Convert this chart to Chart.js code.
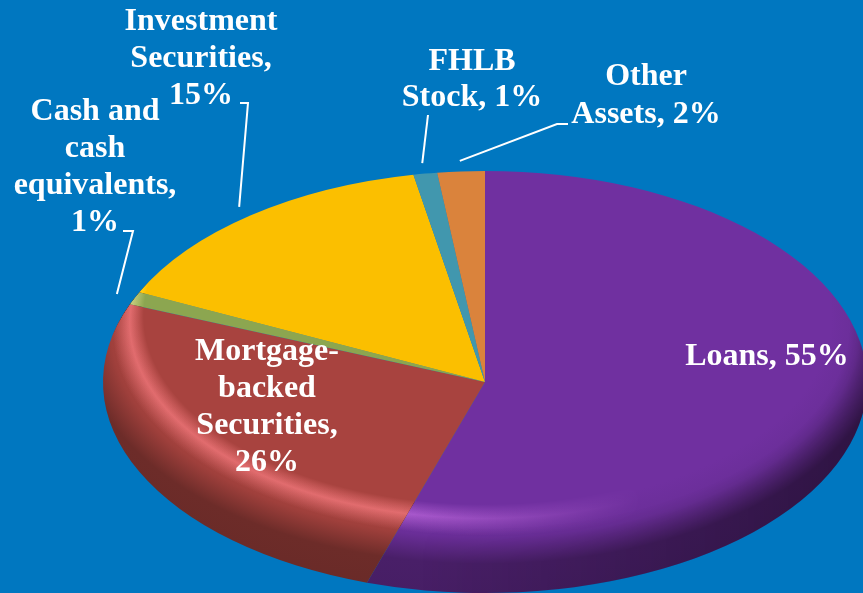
<!DOCTYPE html>
<html>
<head>
<meta charset="utf-8">
<script src="https://cdn.jsdelivr.net/npm/chart.js@4.4.1/dist/chart.umd.min.js"></script>
<style>
  html, body { margin: 0; padding: 0; background: #0077C0; }
  #wrap { width: 863px; height: 593px; position: relative; overflow: hidden; }
</style>
</head>
<body>
<div id="wrap"><canvas id="assets"></canvas></div>
<script>
// asset mix, clockwise from 12 o'clock
const categories = ['Loans', 'Mortgage-backed Securities', 'Cash and cash equivalents',
                    'Investment Securities', 'FHLB Stock', 'Other Assets'];
const shares = [55, 26, 1, 15, 1, 2];
const labelLines = [
    ['Loans, 55%'],
    ['Mortgage-', 'backed', 'Securities,', '26%'],
    ['Cash and', 'cash', 'equivalents,', '1%'],
    ['Investment', 'Securities,', '15%'],
    ['FHLB', 'Stock, 1%'],
    ['Other', 'Assets, 2%']
];
const sliceColors = ['#7030A0', '#A8433F', '#8CA650', '#FBBF00', '#4197AE', '#DA833C'];

// where the pie sits (ellipse, to fake the tilted 3D look)
const PIE = { x: 485, y: 382, rx: 382, ry: 211 };
// bevel gradient: inner circle raised by a, shrunk by b; outer circle grown by s
const BEVEL = { a: 100, b: 40, s: 80 };

// text placement: centre x, first line y, line step, and leader line (text side points)
const labelLayout = [
    { x: 767, y: 357, step: 37, leader: null },
    { x: 267, y: 352, step: 37, leader: null },
    { x: 95,  y: 112, step: 37, leader: [[123, 231], [133, 231]] },
    { x: 201, y: 22,  step: 37, leader: [[240, 103], [248, 103]] },
    { x: 472, y: 62,  step: 36, leader: [[428, 115]] },
    { x: 646, y: 77,  step: 38, leader: [[568, 124], [557, 124]] }
];

function shade(hex, amt) {
    const n = parseInt(hex.slice(1), 16);
    const ch = [(n >> 16) & 255, (n >> 8) & 255, n & 255];
    return 'rgb(' + ch.map(c => Math.round(c * (1 + amt))).join(',') + ')';
}

function pieGeom(chart) {
    const area = chart.chartArea;
    return {
        cx: (area.left + area.right) / 2,
        cy: (area.top + area.bottom) / 2,
        R: Math.min(area.right - area.left, area.bottom - area.top) / 2
    };
}

function bevelGradient(ctx, g) {
    return ctx.createRadialGradient(g.cx, g.cy - BEVEL.a, g.R - BEVEL.b, g.cx, g.cy, g.R + BEVEL.s);
}

// slice fill: flat top, darkening towards the front rim
function sliceFill(context) {
    const base = sliceColors[context.dataIndex];
    const chart = context.chart;
    if (!chart.chartArea) return base;
    const grad = bevelGradient(chart.ctx, pieGeom(chart));
    grad.addColorStop(0, base);
    grad.addColorStop(0.1, base);
    grad.addColorStop(0.28, shade(base, -0.05));
    grad.addColorStop(0.45, shade(base, -0.35));
    grad.addColorStop(1, shade(base, -0.4));
    return grad;
}

// rim overlay drawn on a scratch canvas, faded horizontally, then composited
function rimOverlay(chart, m, stops, fadeFrom, fadeTo, mode) {
    const off = document.createElement('canvas');
    off.width = chart.canvas.width;
    off.height = chart.canvas.height;
    const o = off.getContext('2d');
    const g = pieGeom(chart);
    o.setTransform(m);
    const grad = bevelGradient(o, g);
    stops.forEach(st => grad.addColorStop(st[0], st[1]));
    o.fillStyle = grad;
    o.beginPath();
    o.arc(g.cx, g.cy, g.R, 0, Math.PI * 2);
    o.fill();
    o.setTransform(1, 0, 0, 1, 0, 0);
    o.globalCompositeOperation = 'destination-in';
    const fade = o.createLinearGradient(fadeFrom, 0, fadeTo, 0);
    fade.addColorStop(0, 'rgba(0,0,0,1)');
    fade.addColorStop(1, 'rgba(0,0,0,0)');
    o.fillStyle = fade;
    o.fillRect(0, 0, off.width, off.height);
    const ctx = chart.ctx;
    ctx.save();
    ctx.setTransform(1, 0, 0, 1, 0, 0);
    ctx.globalCompositeOperation = mode;
    ctx.drawImage(off, 0, 0);
    ctx.restore();
}

const squash = {
    id: 'squash',
    beforeDatasetsDraw(chart) {
        const arc = chart.getDatasetMeta(0).data[0];
        const ctx = chart.ctx;
        ctx.save();
        ctx.translate(PIE.x, PIE.y);
        ctx.scale(PIE.rx / arc.outerRadius, PIE.ry / arc.outerRadius);
        ctx.translate(-arc.x, -arc.y);
    },
    afterDatasetsDraw(chart) {
        const m = chart.ctx.getTransform();
        chart.ctx.restore();
        // light catches the front-left of the rim
        rimOverlay(chart, m, [
            [0, 'rgba(60,42,48,0)'], [0.07, 'rgba(60,42,48,0)'],
            [0.16, 'rgba(60,42,48,1)'], [0.27, 'rgba(60,42,48,0)'], [1, 'rgba(60,42,48,0)']
        ], 400, 640, 'lighter');
        // front-right of the rim sits in shadow
        rimOverlay(chart, m, [
            [0, 'rgba(0,0,0,0)'], [0.22, 'rgba(0,0,0,0)'],
            [0.45, 'rgba(0,0,0,0.38)'], [1, 'rgba(0,0,0,0.38)']
        ], 900, 420, 'source-over');
    }
};

const labels = {
    id: 'labels',
    afterDraw(chart) {
        const ctx = chart.ctx;
        const arcs = chart.getDatasetMeta(0).data;
        ctx.save();
        ctx.fillStyle = '#FFFFFF';
        ctx.strokeStyle = '#FFFFFF';
        ctx.lineWidth = 2;
        ctx.font = 'bold 32px "Liberation Serif", "Times New Roman", serif';
        ctx.textAlign = 'center';
        ctx.textBaseline = 'middle';
        labelLines.forEach((lines, i) => {
            const lay = labelLayout[i];
            lines.forEach((t, k) => ctx.fillText(t, lay.x, lay.y + k * lay.step));
            if (lay.leader) {
                const a = arcs[i];
                const mid = (a.startAngle + a.endAngle) / 2;
                const ex = PIE.x + Math.cos(mid) * PIE.rx * 1.05;
                const ey = PIE.y + Math.sin(mid) * PIE.ry * 1.05;
                ctx.beginPath();
                ctx.moveTo(lay.leader[0][0], lay.leader[0][1]);
                for (let k = 1; k < lay.leader.length; k++) ctx.lineTo(lay.leader[k][0], lay.leader[k][1]);
                ctx.lineTo(ex, ey);
                ctx.stroke();
            }
        });
        ctx.restore();
    }
};

new Chart(document.getElementById('assets'), {
    type: 'pie',
    data: {
        labels: categories,
        datasets: [{
            data: shares,
            backgroundColor: sliceFill,
            borderWidth: 0
        }]
    },
    options: {
        responsive: true,
        maintainAspectRatio: false,
        animation: false,
        layout: { padding: 0 },
        plugins: {
            legend: { display: false },
            tooltip: { enabled: false }
        }
    },
    plugins: [squash, labels]
});
</script>
</body>
</html>
